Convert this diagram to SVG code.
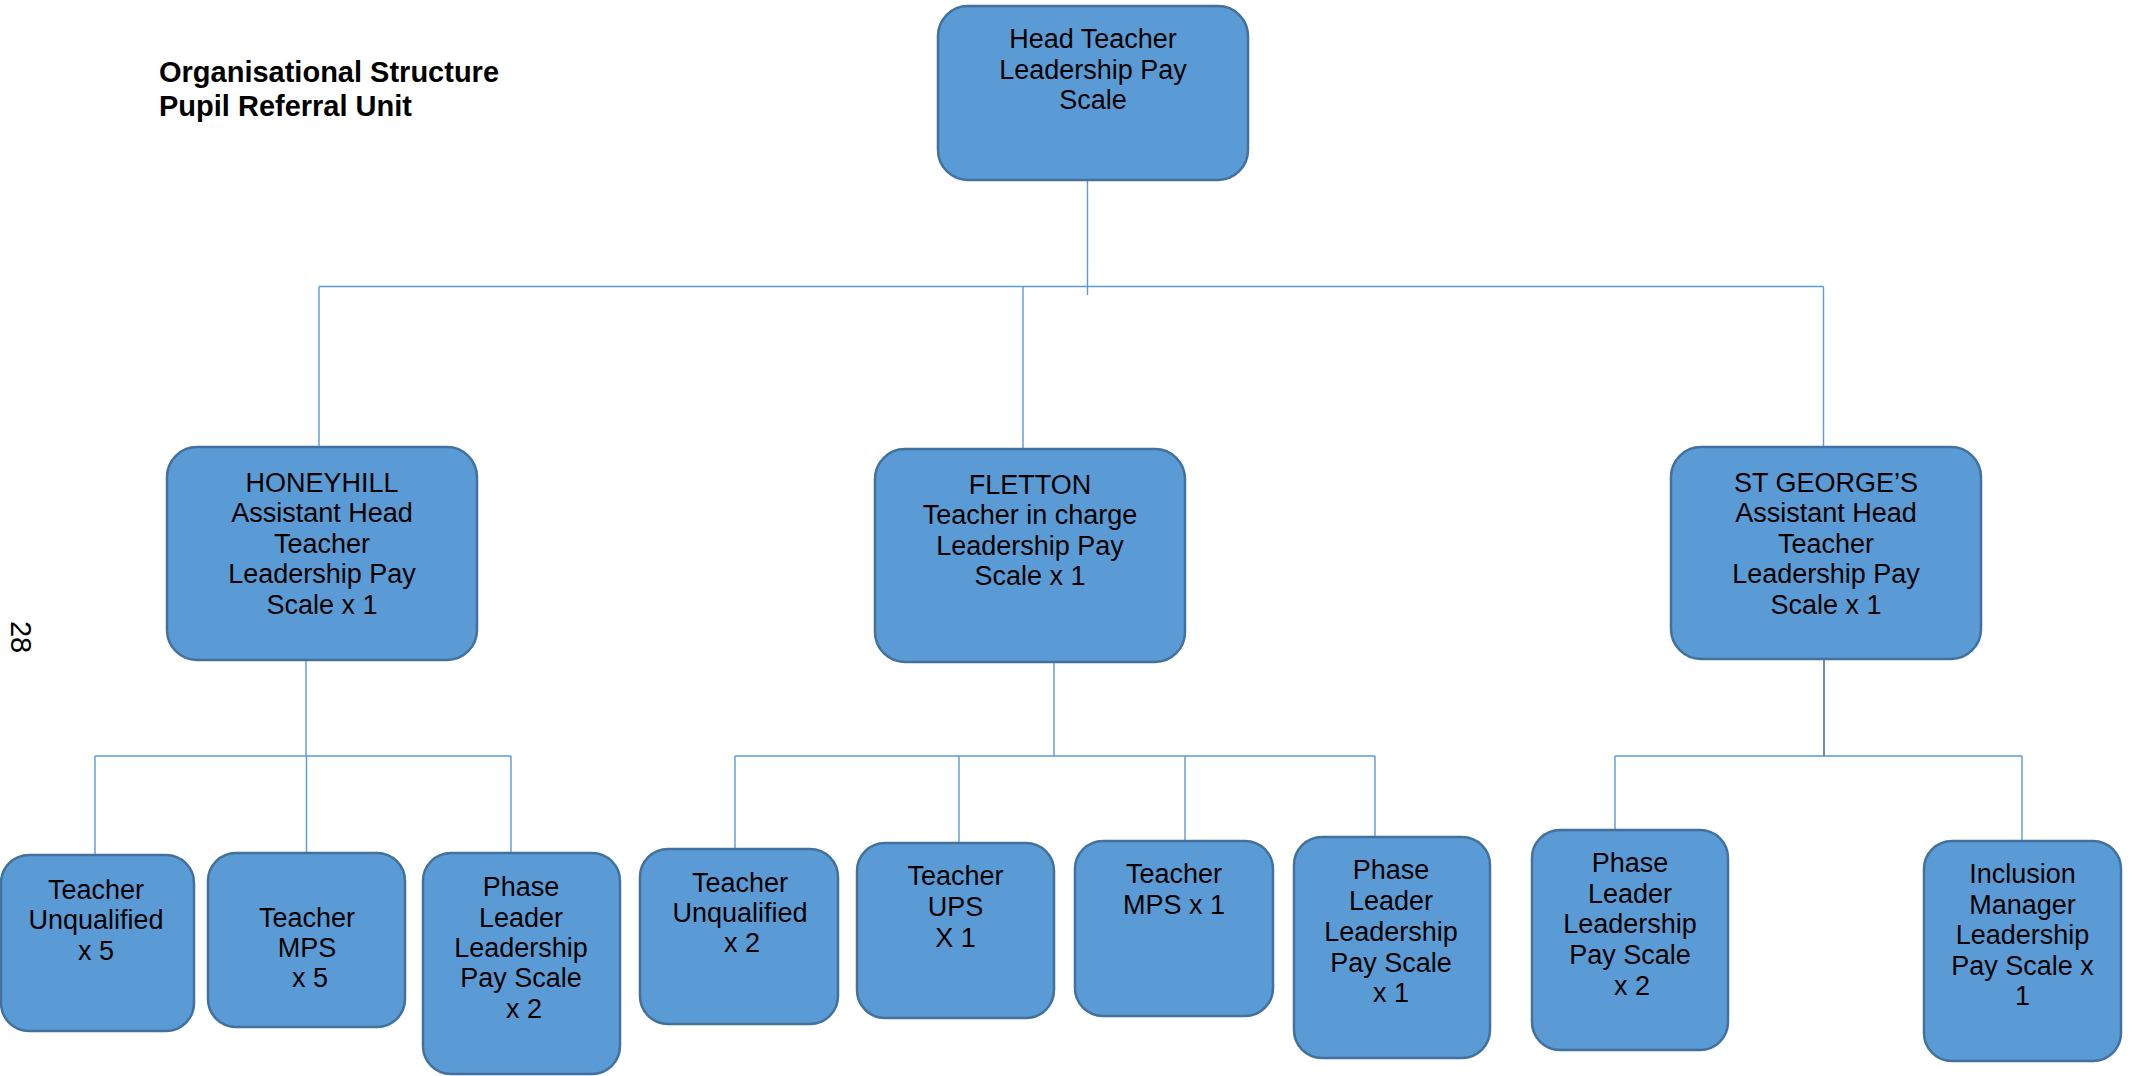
<svg xmlns="http://www.w3.org/2000/svg" width="2134" height="1076" viewBox="0 0 2134 1076">
<style>
.box{fill:#5B9BD5;stroke:#41719C;stroke-width:2.5}
.t{font-family:"Liberation Sans",Arial,sans-serif;font-size:27px;fill:#000;text-anchor:middle}
.title{font-family:"Liberation Sans",Arial,sans-serif;font-size:29px;font-weight:bold;fill:#000}
.c{fill:none;stroke:#5B9BD5;stroke-width:1.4}
.cd{fill:none;stroke:#41719C;stroke-width:1.6}
</style>
<rect width="2134" height="1076" fill="#fff"/>
<text class="title" x="159" y="82">Organisational Structure</text>
<text class="title" x="159" y="116">Pupil Referral Unit</text>
<text font-family="Liberation Sans,Arial,sans-serif" font-size="29" transform="translate(11,637) rotate(90)" text-anchor="middle">28</text>
<g id="connectors">
<path class="c" d="M1087.5 180V295M319 286.5H1823.5M319 286.5V447M1023 286.5V449M1823.5 286.5V447"/>
<path class="c" d="M306 660V756M95 756H511M95 756V855M306.5 756V853M511 756V853"/>
<path class="c" d="M1054 662V756M735 756H1375M735 756V849M959 756V843M1185 756V841M1375 756V837"/>
<path class="c" d="M1615 756H2022M1615 756V830M2022 756V841"/>
<path class="cd" d="M1824 622V756"/>
</g>
<g id="head"><rect class="box" x="938" y="6" width="310" height="174" rx="30"/>
<text class="t" x="1093" y="48">Head Teacher</text><text class="t" x="1093" y="78.5">Leadership Pay</text><text class="t" x="1093" y="109">Scale</text></g>
<g id="honeyhill"><rect class="box" x="167" y="447" width="310" height="213" rx="30"/>
<text class="t" x="322" y="492">HONEYHILL</text><text class="t" x="322" y="522">Assistant Head</text><text class="t" x="322" y="553">Teacher</text><text class="t" x="322" y="583">Leadership Pay</text><text class="t" x="322" y="614">Scale x 1</text></g>
<g id="fletton"><rect class="box" x="875" y="449" width="310" height="213" rx="30"/>
<text class="t" x="1030" y="494">FLETTON</text><text class="t" x="1030" y="524">Teacher in charge</text><text class="t" x="1030" y="554.5">Leadership Pay</text><text class="t" x="1030" y="585">Scale x 1</text></g>
<g id="stgeorges"><rect class="box" x="1671" y="447" width="310" height="212" rx="30"/>
<text class="t" x="1826" y="492">ST GEORGE’S</text><text class="t" x="1826" y="522">Assistant Head</text><text class="t" x="1826" y="553">Teacher</text><text class="t" x="1826" y="583">Leadership Pay</text><text class="t" x="1826" y="614">Scale x 1</text></g>
<g id="hh-unqualified"><rect class="box" x="1" y="855" width="193" height="176" rx="28"/>
<text class="t" x="96" y="899">Teacher</text><text class="t" x="96" y="929">Unqualified</text><text class="t" x="96" y="959.5">x 5</text></g>
<g id="hh-mps"><rect class="box" x="208" y="853" width="197" height="174" rx="28"/>
<text class="t" x="307" y="926.5">Teacher</text><text class="t" x="307" y="957">MPS</text><text class="t" x="310" y="987">x 5</text></g>
<g id="hh-phase"><rect class="box" x="423" y="853" width="197" height="221" rx="28"/>
<text class="t" x="521" y="896">Phase</text><text class="t" x="521" y="926.5">Leader</text><text class="t" x="521" y="957">Leadership</text><text class="t" x="521" y="987">Pay Scale</text><text class="t" x="524" y="1018">x 2</text></g>
<g id="fl-unqualified"><rect class="box" x="640" y="849" width="198" height="175" rx="28"/>
<text class="t" x="740" y="891.5">Teacher</text><text class="t" x="740" y="922">Unqualified</text><text class="t" x="742" y="952">x 2</text></g>
<g id="fl-ups"><rect class="box" x="857" y="843" width="197" height="175" rx="28"/>
<text class="t" x="955.5" y="885">Teacher</text><text class="t" x="955.5" y="916">UPS</text><text class="t" x="955.5" y="947">X 1</text></g>
<g id="fl-mps"><rect class="box" x="1075" y="841" width="198" height="175" rx="28"/>
<text class="t" x="1174" y="883">Teacher</text><text class="t" x="1174" y="914">MPS x 1</text></g>
<g id="fl-phase"><rect class="box" x="1294" y="837" width="196" height="221" rx="28"/>
<text class="t" x="1391" y="879">Phase</text><text class="t" x="1391" y="910">Leader</text><text class="t" x="1391" y="940.5">Leadership</text><text class="t" x="1391" y="971.5">Pay Scale</text><text class="t" x="1391" y="1002">x 1</text></g>
<g id="sg-phase"><rect class="box" x="1532" y="830" width="196" height="220" rx="28"/>
<text class="t" x="1630" y="872">Phase</text><text class="t" x="1630" y="902.5">Leader</text><text class="t" x="1630" y="933">Leadership</text><text class="t" x="1630" y="963.5">Pay Scale</text><text class="t" x="1632" y="994.5">x 2</text></g>
<g id="sg-inclusion"><rect class="box" x="1924" y="841" width="197" height="220" rx="28"/>
<text class="t" x="2022.5" y="883">Inclusion</text><text class="t" x="2022.5" y="913.5">Manager</text><text class="t" x="2022.5" y="944">Leadership</text><text class="t" x="2022.5" y="975">Pay Scale x</text><text class="t" x="2022.5" y="1005">1</text></g>
</svg>
